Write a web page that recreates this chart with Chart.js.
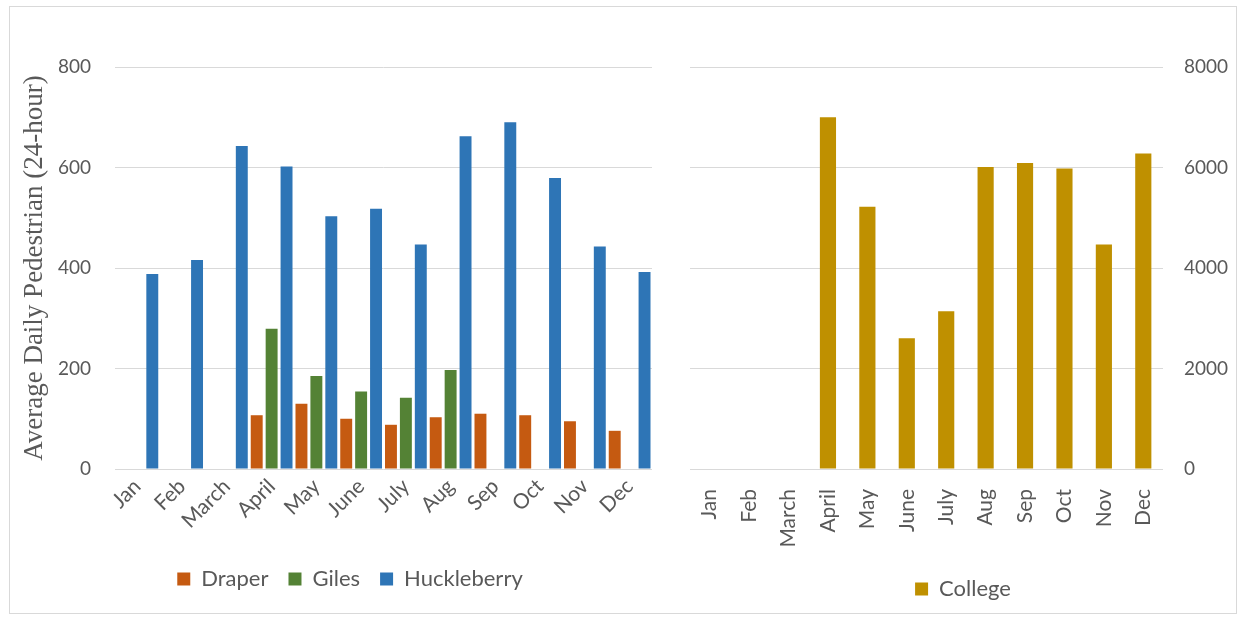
<!DOCTYPE html>
<html>
<head>
<meta charset="utf-8">
<script src="https://cdn.jsdelivr.net/npm/chart.js@4/dist/chart.umd.min.js"></script>
<style>
  html, body { margin: 0; padding: 0; background: #fff; }
  #frame { position: absolute; left: 9px; top: 6px; width: 1226px; height: 606px; border: 1px solid #d9d9d9; }
  #left { position: absolute; left: 9px; top: 6px; }
  #right { position: absolute; left: 680px; top: 6px; }
</style>
</head>
<body>
<div id="frame"></div>
<canvas id="left" width="669" height="607"></canvas>
<canvas id="right" width="556" height="607"></canvas>
<script>
    var months = ['Jan', 'Feb', 'March', 'April', 'May', 'June', 'July', 'Aug', 'Sep', 'Oct', 'Nov', 'Dec'];
    var draper = [null, null, null, 107, 130, 100, 88, 103, 110, 107, 95, 76];
    var giles = [null, null, null, 279, 185, 154, 142, 197, null, null, null, null];
    var huckleberry = [388, 416, 643, 602, 503, 518, 447, 662, 690, 579, 443, 392];
    var college = [null, null, null, 7000, 5220, 2600, 3140, 6010, 6090, 5980, 4470, 6280];

    var textColor = '#595959';
    var gridColor = '#d9d9d9';
    var sans = 'Lato';

    // fixed axis sizes so the plot areas line up
    function fixWidth(w) {
        return function (s) { s.width = w; s.paddingTop = 0; s.paddingBottom = 0; };
    }
    function fixHeight(h) {
        return function (s) { s.height = h; s.paddingLeft = 0; s.paddingRight = 0; };
    }

    // legend height = font + padding + 10, so the axis heights below depend on these
    var legendLabels = { boxWidth: 13, boxHeight: 13, padding: 20, color: textColor, font: { family: sans, size: 22 } };

    new Chart(document.getElementById('left'), {
        type: 'bar',
        data: {
            labels: months,
            datasets: [
                { label: 'Draper', data: draper, backgroundColor: '#c55a11' },
                { label: 'Giles', data: giles, backgroundColor: '#548235' },
                { label: 'Huckleberry', data: huckleberry, backgroundColor: '#2e75b6' }
            ]
        },
        options: {
            responsive: false,
            animation: false,
            devicePixelRatio: 1,
            layout: { padding: { left: 39, right: 26, top: 61, bottom: 13 } },
            datasets: { bar: { categoryPercentage: 1.0, barPercentage: 0.8 } },
            scales: {
                x: {
                    grid: { display: false },
                    border: { display: false },
                    ticks: { color: textColor, font: { family: sans, size: 21 }, minRotation: 45, maxRotation: 45, padding: -3 },
                    afterFit: fixHeight(79)
                },
                y: {
                    min: 0, max: 800,
                    grid: { color: gridColor, drawTicks: false },
                    border: { display: false },
                    ticks: { stepSize: 200, color: textColor, font: { family: sans, size: 19 }, padding: 24 },
                    title: {
                        display: true,
                        text: 'Average Daily Pedestrian (24-hour)',
                        color: textColor,
                        font: { family: 'Liberation Serif', size: 27 },
                        // pulled left, past the layout padding that centres the legend
                        padding: { top: -29, bottom: 0 }
                    },
                    afterFit: fixWidth(67)
                }
            },
            plugins: {
                legend: { position: 'bottom', labels: legendLabels },
                tooltip: { enabled: false }
            }
        }
    });

    new Chart(document.getElementById('right'), {
        type: 'bar',
        data: {
            labels: months,
            datasets: [
                { label: 'College', data: college, backgroundColor: '#bf9000' }
            ]
        },
        options: {
            responsive: false,
            animation: false,
            devicePixelRatio: 1,
            layout: { padding: { left: 10, right: 0, top: 61, bottom: 3 } },
            datasets: { bar: { categoryPercentage: 1.0, barPercentage: 0.41 } },
            scales: {
                x: {
                    grid: { display: false },
                    border: { display: false },
                    ticks: { color: textColor, font: { family: sans, size: 21 }, minRotation: 90, maxRotation: 90, padding: 12 },
                    afterFit: fixHeight(89)
                },
                y: {
                    position: 'right',
                    min: 0, max: 8000,
                    grid: { color: gridColor, drawTicks: false },
                    border: { display: false },
                    ticks: {
                        stepSize: 2000, color: textColor, font: { family: sans, size: 19 }, padding: 21,
                        callback: function (v) { return String(v); }
                    },
                    afterFit: fixWidth(73)
                }
            },
            plugins: {
                legend: { position: 'bottom', labels: legendLabels },
                tooltip: { enabled: false }
            }
        }
    });
</script>
</body>
</html>
